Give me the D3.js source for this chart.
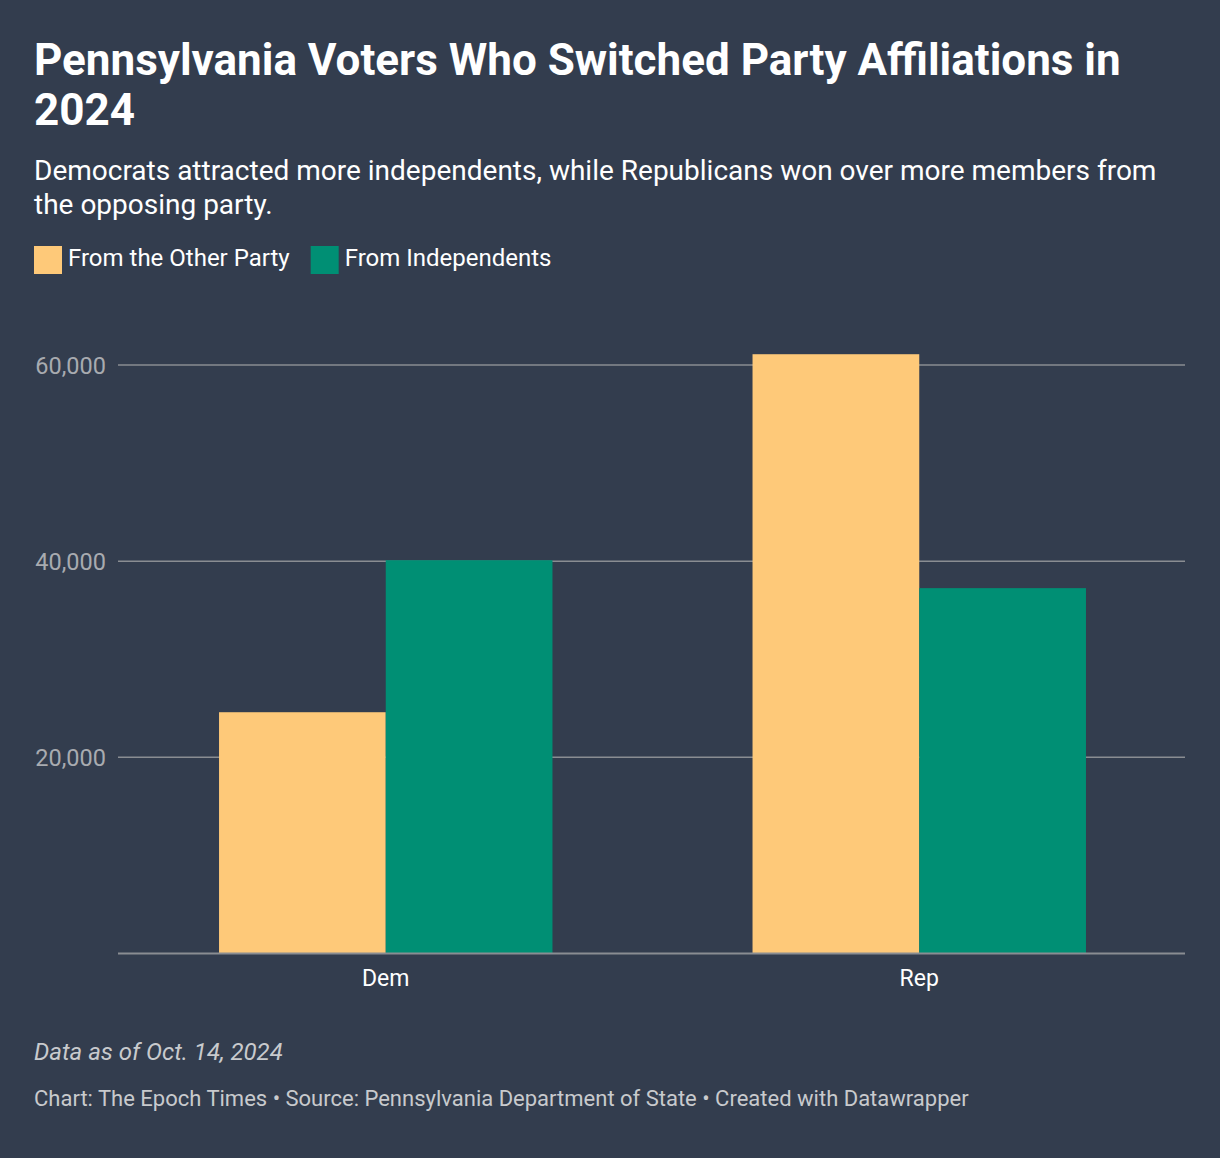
<!DOCTYPE html>
<html><head><meta charset="utf-8">
<script src="https://cdn.jsdelivr.net/npm/d3@7"></script>
<style>
html,body{margin:0;padding:0;background:#333d4e;}
svg{display:block;font-family:Roboto,"Noto Sans",sans-serif;}
</style></head>
<body>
<svg id="chart" width="1220" height="1158"></svg>
<script>
const categories = ["Dem", "Rep"];
const seriesNames = ["From the Other Party", "From Independents"];
const otherParty = [24600, 61100];
const independents = [40100, 37250];
const yTicks = [20000, 40000, 60000];
const colors = ["#fec979", "#008f74"];

const svg = d3.select("#chart");
const W = 1220, H = 1158;
svg.append("rect").attr("width", W).attr("height", H).attr("fill", "#333d4e");

svg.append("text").attr("x", 34).attr("y", 75).attr("fill", "#fff")
  .attr("font-size", 44).attr("font-weight", 700)
  .text("Pennsylvania Voters Who Switched Party Affiliations in");
svg.append("text").attr("x", 34).attr("y", 125).attr("fill", "#fff")
  .attr("font-size", 44).attr("font-weight", 700).text("2024");

svg.append("text").attr("x", 34).attr("y", 180).attr("fill", "#fff")
  .attr("font-size", 28).text("Democrats attracted more independents, while Republicans won over more members from");
svg.append("text").attr("x", 34).attr("y", 214).attr("fill", "#fff")
  .attr("font-size", 28).text("the opposing party.");

// legend
const legend = svg.append("g");
let lx = 34;
seriesNames.forEach((n, i) => {
  legend.append("rect").attr("x", lx).attr("y", 246).attr("width", 28).attr("height", 28).attr("fill", colors[i]);
  const t = legend.append("text").attr("x", lx + 34).attr("y", 266).attr("fill", "#fff")
    .attr("font-size", 24).text(n);
  lx += 34 + t.node().getComputedTextLength() + 21;
});

const x0 = d3.scaleBand().domain(categories).range([119, 1186]).paddingInner(0.375).paddingOuter(0.1875);
const x1 = d3.scaleBand().domain(seriesNames).range([0, x0.bandwidth()]);
const y = d3.scaleLinear().domain([0, 60000]).range([953.5, 365]);

// gridlines
const grid = svg.append("g");
grid.selectAll("line").data(yTicks).join("line")
  .attr("x1", 118).attr("x2", 1185)
  .attr("y1", d => y(d)).attr("y2", d => y(d))
  .attr("stroke", "#8a8d92").attr("stroke-width", 1.5);

const yAxis = d3.axisLeft(y).tickValues(yTicks).tickSize(0).tickPadding(0).tickFormat(d3.format(","));
const ya = svg.append("g").attr("transform", "translate(106,0)").call(yAxis);
ya.select(".domain").remove();
ya.selectAll("text").attr("fill", "#a8abb0").attr("font-size", 23.5).attr("font-family", "Roboto").attr("dy", "0.35em");

// bars
const data = categories.map((c, i) => ({cat: c, vals: [otherParty[i], independents[i]]}));
const groups = svg.append("g").selectAll("g").data(data).join("g")
  .attr("transform", d => `translate(${x0(d.cat)},0)`);
groups.selectAll("rect").data(d => d.vals.map((v, i) => ({v, s: seriesNames[i], i})))
  .join("rect")
  .attr("x", d => x1(d.s)).attr("width", x1.bandwidth())
  .attr("y", d => y(d.v)).attr("height", d => y(0) - y(d.v))
  .attr("fill", d => colors[d.i]);

// baseline
svg.append("line").attr("x1", 118).attr("x2", 1185).attr("y1", y(0)).attr("y2", y(0))
  .attr("stroke", "#8a8d92").attr("stroke-width", 2);

const xAxis = d3.axisBottom(x0).tickSize(0).tickPadding(0);
const xa = svg.append("g").attr("transform", `translate(0,${y(0)})`).call(xAxis);
xa.select(".domain").remove();
xa.selectAll("text").attr("fill", "#fff").attr("font-size", 23).attr("font-family", "Roboto").attr("dy", 0).attr("y", 32);

svg.append("text").attr("x", 34).attr("y", 1060).attr("fill", "#c8cacd")
  .attr("font-size", 24).attr("font-style", "italic").text("Data as of Oct. 14, 2024");
svg.append("text").attr("x", 34).attr("y", 1106).attr("fill", "#c8cacd")
  .attr("font-size", 22).text("Chart: The Epoch Times • Source: Pennsylvania Department of State • Created with Datawrapper");
</script>
</body></html>
